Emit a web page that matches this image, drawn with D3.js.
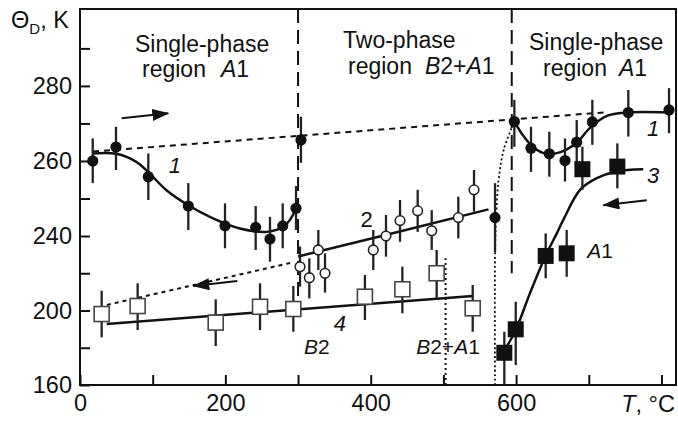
<!DOCTYPE html>
<html>
<head>
<meta charset="utf-8">
<script src="https://cdn.jsdelivr.net/npm/d3@7"></script>
<style>
  body { margin: 0; background: #fff; }
  svg text { font-family: "Liberation Sans", Arial, sans-serif; fill: #111; }
</style>
</head>
<body>
<div id="chart"></div>
<script>
// [T, Theta, barLow, barHigh]
const heating = [
    [17.5, 260.0, 254.1, 266.0], [49.5, 263.7, 257.6, 269.1], [94, 255.8, 249.6, 262.0],
    [149, 248.0, 241.6, 254.1], [199.5, 242.7, 233.4, 248.7], [241.7, 242.3, 232.5, 248.0],
    [261.4, 238.4, 226.2, 245.1], [278.9, 242.7, 233.4, 248.7], [297.2, 247.4, 241.6, 253.3],
    [304, 265.6, 259.5, 271.8], [597.6, 270.5, 263.8, 276.3], [620.5, 263.4, 257.1, 269.1],
    [645.7, 261.9, 255.8, 267.8], [667.3, 260.1, 254.5, 266.0], [683.4, 265.0, 258.5, 270.9],
    [704.9, 270.4, 264.3, 276.3], [754.4, 272.9, 266.5, 278.9], [810.4, 273.6, 267.4, 279.4]
];
const twoPhase = [
    [302.7, 223.5, 212.8, 234.3], [315.5, 217.6, 206.5, 228.0], [327.9, 232.5, 221.7, 241.6],
    [337.1, 220.0, 209.6, 230.7], [403.5, 232.5, 221.7, 241.6], [421, 240.0, 228.9, 245.6],
    [440.3, 244.1, 236.9, 249.6], [464.6, 246.7, 241.1, 252.3], [483.9, 241.4, 232.5, 246.9],
    [520.5, 244.9, 238.7, 250.5], [542.1, 252.3, 246.5, 257.6]
];
const twoPhaseEnd = [[571, 244.9, 231.4, 254.1]];
const cooling = [
    [583.8, 177.3, 160.3, 188.6], [599.5, 189.9, 170.7, 204.7], [640.7, 229.3, 217.3, 240.7],
    [669.6, 230.7, 218.1, 241.6], [691.2, 257.8, 252.3, 263.8], [739.3, 258.5, 252.7, 264.7]
];
const b2Phase = [
    [29.8, 198.1, 185.6, 210.6], [79.3, 202.4, 189.5, 214.6], [186.7, 193.5, 180.9, 206.0],
    [247.7, 202.0, 189.5, 214.6], [293.5, 200.8, 188.6, 213.2], [392, 207.4, 194.9, 219.1],
    [443.5, 211.4, 198.5, 223.5], [490.7, 220.0, 206.5, 232.5], [540.3, 201.2, 188.6, 213.7]
];

// fitted curves [T, Theta]
const fit1a = [[17, 262], [50, 261.9], [78, 259.7], [94, 257], [119, 252.2], [149, 248.2],
    [183, 244.7], [220, 242], [257, 241.1], [280, 242.5], [297, 247.3], [299, 250]];
const fit1b = [[597.6, 270.5], [610, 266.7], [624, 263.6], [642, 261.9], [660, 262.3],
    [683, 264.8], [702, 268.9], [725, 272], [752, 272.9], [810, 272.9]];
const fit2 = [[300, 229], [415, 240], [562, 247.1]];
const fit3 = [[587, 180.6], [599.5, 189.5], [619, 209.2], [640, 228.9], [656, 240.7],
    [665, 244.3], [688, 252.3], [711, 255.4], [738, 257.2], [775, 257.8]];
const fit4 = [[36.7, 192.8], [540.3, 207.8]];
const heatGuide = [[18, 262.5], [725, 273]];
const coolGuide = [[37, 203], [289, 225.5]];
const dottedCurve = [[571, 160], [571, 228], [572.5, 245], [576, 255], [583, 263], [597.6, 270.5]];
const dottedLine = [[503, 160], [503, 228]];
const boundaries = [[300, 207], [594, 220]];   // T, lower end of dashed line

const arrows = [
    [[57.4, 271.4], [121.5, 272.7]],
    [[216.4, 215.8], [155.9, 213.2]],
    [[779.7, 249.5], [720, 248.2]]
];
const curveLabels = [
    ["1", 130.7, 258.9, true], ["1", 788.4, 268.8, true], ["2", 394.5, 244.5, false],
    ["3", 788.4, 256.3, true], ["4", 357.7, 193.3, true]
];
const xTicks = [0, 100, 200, 300, 400, 500, 600, 700, 800];
const xLabels = [0, 200, 400, 600];
const yTicks = [160, 180, 200, 220, 240, 250, 260, 270, 280, 290];
const yLabels = [160, 200, 240, 260, 280];

const width = 678, height = 425;
const x = d3.scaleLinear().domain([0, 820]).range([80, 676]);
// broken axis: 160-240 compressed, 240-300 expanded
const y = d3.scaleLinear().domain([160, 240, 300.5]).range([385, 236, 9]);

const svg = d3.select("#chart").append("svg")
    .attr("width", width).attr("height", height);

const defs = svg.append("defs");
defs.append("marker")
    .attr("id", "head")
    .attr("viewBox", "0 0 17 12")
    .attr("refX", 16).attr("refY", 6)
    .attr("markerWidth", 17).attr("markerHeight", 12)
    .attr("markerUnits", "userSpaceOnUse")
    .attr("orient", "auto")
    .append("path").attr("d", "M0,0 L17,6 L0,12 Z").attr("fill", "#111");

// axes
svg.append("g")
    .attr("transform", `translate(0,${y.range()[0]})`)
    .call(d3.axisBottom(x).tickValues(xTicks).tickSizeInner(-10).tickSizeOuter(0).tickPadding(9)
        .tickFormat(d => xLabels.includes(d) ? d : ""))
    .call(g => g.select(".domain").remove())
    .call(g => g.selectAll("line").attr("stroke", "#111").attr("stroke-width", 2))
    .call(g => g.selectAll("text").style("font-size", "23.5px").attr("fill", "#111"));

svg.append("g")
    .attr("transform", `translate(${x.range()[0]},0)`)
    .call(d3.axisLeft(y).tickValues(yTicks).tickSizeInner(-10).tickSizeOuter(0).tickPadding(8)
        .tickFormat(d => yLabels.includes(d) ? d : ""))
    .call(g => g.select(".domain").remove())
    .call(g => g.selectAll("line").attr("stroke", "#111").attr("stroke-width", 2))
    .call(g => g.selectAll("text").style("font-size", "23.5px").attr("fill", "#111"));

svg.append("rect")
    .attr("x", x.range()[0]).attr("y", y(300.5))
    .attr("width", x.range()[1] - x.range()[0])
    .attr("height", y.range()[0] - y(300.5))
    .attr("fill", "none").attr("stroke", "#111").attr("stroke-width", 2);

// axis titles
const yt = svg.append("text").attr("x", 11).attr("y", 28).style("font-size", "23.5px");
yt.append("tspan").text("\u0398");
yt.append("tspan").attr("dy", 6).style("font-size", "15px").text("D");
yt.append("tspan").attr("dy", -6).text(", K");

const xt = svg.append("text").attr("x", 675).attr("y", 412)
    .attr("text-anchor", "end").style("font-size", "23.5px");
xt.append("tspan").style("font-style", "italic").text("T");
xt.append("tspan").text(", \u00b0C");

// region captions
function caption(x0, y0, parts) {
    const t = svg.append("text").attr("x", x0).attr("y", y0).style("font-size", "23px");
    parts.forEach(p => t.append("tspan").attr("dx", p[2] || 0)
        .style("font-style", p[1] ? "italic" : "normal").text(p[0]));
}
caption(135, 52, [["Single-phase"]]);
caption(142, 77, [["region"], ["A", true, 15], ["1"]]);
caption(343, 48, [["Two-phase"]]);
caption(348, 74, [["region"], ["B", true, 13], ["2+"], ["A", true], ["1"]]);
caption(529, 50, [["Single-phase"]]);
caption(543, 76, [["region"], ["A", true, 12], ["1"]]);

const line = d3.line().x(d => x(d[0])).y(d => y(d[1]));
const smooth = d3.line().x(d => x(d[0])).y(d => y(d[1])).curve(d3.curveCatmullRom.alpha(0.5));

// phase boundaries
svg.selectAll(".bound").data(boundaries).enter().append("line")
    .attr("x1", d => x(d[0])).attr("x2", d => x(d[0]))
    .attr("y1", y(300.5)).attr("y2", d => y(d[1]))
    .attr("stroke", "#111").attr("stroke-width", 2).attr("stroke-dasharray", "14,7");

// guides
svg.append("path").attr("d", line(heatGuide)).attr("fill", "none")
    .attr("stroke", "#111").attr("stroke-width", 2).attr("stroke-dasharray", "6,5");
svg.append("path").attr("d", line(coolGuide)).attr("fill", "none")
    .attr("stroke", "#111").attr("stroke-width", 2).attr("stroke-dasharray", "4,4");
svg.append("path").attr("d", line(dottedLine)).attr("fill", "none")
    .attr("stroke", "#111").attr("stroke-width", 2).attr("stroke-dasharray", "2,3");
svg.append("path").attr("d", smooth(dottedCurve)).attr("fill", "none")
    .attr("stroke", "#111").attr("stroke-width", 1.8).attr("stroke-dasharray", "2,2.5");

// fits
[fit1a, fit1b, fit3].forEach(f => svg.append("path").attr("d", smooth(f))
    .attr("fill", "none").attr("stroke", "#111").attr("stroke-width", 2.5));
[fit2, fit4].forEach(f => svg.append("path").attr("d", line(f))
    .attr("fill", "none").attr("stroke", "#111").attr("stroke-width", 2.5));

// arrows
svg.selectAll(".arrow").data(arrows).enter().append("line")
    .attr("x1", d => x(d[0][0])).attr("y1", d => y(d[0][1]))
    .attr("x2", d => x(d[1][0])).attr("y2", d => y(d[1][1]))
    .attr("stroke", "#111").attr("stroke-width", 2).attr("marker-end", "url(#head)");

// error bars
const allPts = heating.concat(twoPhase, twoPhaseEnd, cooling, b2Phase);
svg.selectAll(".err").data(allPts).enter().append("line")
    .attr("x1", d => x(d[0])).attr("x2", d => x(d[0]))
    .attr("y1", d => y(d[2])).attr("y2", d => y(d[3]))
    .attr("stroke", "#222").attr("stroke-width", 2.3);

// markers
svg.selectAll(".heat").data(heating.concat(twoPhaseEnd)).enter().append("circle")
    .attr("cx", d => x(d[0])).attr("cy", d => y(d[1])).attr("r", 5.6).attr("fill", "#111");
svg.selectAll(".two").data(twoPhase).enter().append("circle")
    .attr("cx", d => x(d[0])).attr("cy", d => y(d[1])).attr("r", 4.8)
    .attr("fill", "#fff").attr("stroke", "#222").attr("stroke-width", 1.6);
svg.selectAll(".b2").data(b2Phase).enter().append("rect")
    .attr("x", d => x(d[0]) - 7.5).attr("y", d => y(d[1]) - 7.5)
    .attr("width", 15).attr("height", 15)
    .attr("fill", "#fff").attr("stroke", "#444").attr("stroke-width", 1.6);
svg.selectAll(".cool").data(cooling).enter().append("rect")
    .attr("x", d => x(d[0]) - 8).attr("y", d => y(d[1]) - 8)
    .attr("width", 16).attr("height", 16).attr("fill", "#111");

// curve labels
svg.selectAll(".clab").data(curveLabels).enter().append("text")
    .attr("x", d => x(d[1])).attr("y", d => y(d[2])).attr("dy", "0.36em")
    .attr("text-anchor", "middle").style("font-size", "22px")
    .style("font-style", d => d[3] ? "italic" : "normal").text(d => d[0]);

// phase labels
function phaseLabel(T, v, parts) {
    const t = svg.append("text").attr("x", x(T)).attr("y", y(v)).attr("dy", "0.36em")
        .attr("text-anchor", "middle").style("font-size", "21px");
    parts.forEach(p => t.append("tspan").style("font-style", p[1] ? "italic" : "normal").text(p[0]));
}
phaseLabel(715.5, 232.5, [["A", true], ["1"]]);
phaseLabel(325.7, 180.6, [["B", true], ["2"]]);
phaseLabel(506.3, 180.6, [["B", true], ["2+"], ["A", true], ["1"]]);
</script>
</body>
</html>
